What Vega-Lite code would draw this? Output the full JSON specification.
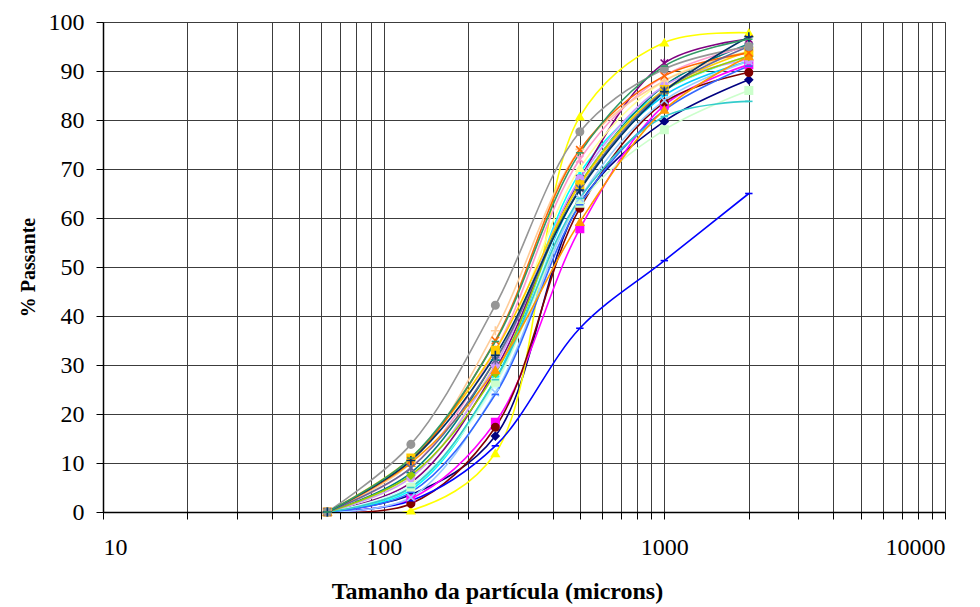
{
  "$schema": "https://vega.github.io/schema/vega-lite/v6.json",
  "width": 842,
  "height": 490,
  "autosize": "none",
  "padding": {"left": 103, "top": 22, "right": 35, "bottom": 95},
  "background": "white",
  "config": {
    "font": "Liberation Serif",
    "view": {"stroke": "#999999", "strokeWidth": 1},
    "axis": {
      "labelFont": "Liberation Serif",
      "titleFont": "Liberation Serif",
      "labelFontSize": 24,
      "titleFontSize": 20,
      "titleFontWeight": "bold",
      "labelColor": "black",
      "titleColor": "black",
      "domainColor": "black",
      "domainWidth": 1.5,
      "tickColor": "black",
      "tickSize": 7,
      "gridColor": "#3c3c3c",
      "gridWidth": 1,
      "gridOpacity": 1
    }
  },
  "datasets": {
    "pts": [
      {"s":"s1","x":63,"y":0},{"s":"s1","x":125,"y":3.5},{"s":"s1","x":250,"y":15.5},{"s":"s1","x":500,"y":63},{"s":"s1","x":1000,"y":79.7},{"s":"s1","x":2000,"y":88.2},
      {"s":"s2","x":63,"y":0},{"s":"s2","x":125,"y":2.7},{"s":"s2","x":250,"y":18.3},{"s":"s2","x":500,"y":57.8},{"s":"s2","x":1000,"y":83},{"s":"s2","x":2000,"y":91.3},
      {"s":"s3","x":63,"y":0},{"s":"s3","x":125,"y":0.3},{"s":"s3","x":250,"y":12},{"s":"s3","x":500,"y":80.7},{"s":"s3","x":1000,"y":95.8},{"s":"s3","x":2000,"y":97.8},
      {"s":"s4","x":63,"y":0},{"s":"s4","x":125,"y":4.5},{"s":"s4","x":250,"y":27},{"s":"s4","x":500,"y":69.2},{"s":"s4","x":1000,"y":86},{"s":"s4","x":2000,"y":93},
      {"s":"s5","x":63,"y":0},{"s":"s5","x":125,"y":6},{"s":"s5","x":250,"y":29},{"s":"s5","x":500,"y":68},{"s":"s5","x":1000,"y":91.6},{"s":"s5","x":2000,"y":96.5},
      {"s":"s6","x":63,"y":0},{"s":"s6","x":125,"y":1.7},{"s":"s6","x":250,"y":17.3},{"s":"s6","x":500,"y":62},{"s":"s6","x":1000,"y":83.6},{"s":"s6","x":2000,"y":89.7},
      {"s":"s7","x":63,"y":0},{"s":"s7","x":125,"y":8},{"s":"s7","x":250,"y":31},{"s":"s7","x":500,"y":67},{"s":"s7","x":1000,"y":87},{"s":"s7","x":2000,"y":95.5},
      {"s":"s8","x":63,"y":0},{"s":"s8","x":125,"y":2.3},{"s":"s8","x":250,"y":13.5},{"s":"s8","x":500,"y":37.5},{"s":"s8","x":1000,"y":51.3},{"s":"s8","x":2000,"y":65},
      {"s":"s9","x":63,"y":0},{"s":"s9","x":125,"y":5},{"s":"s9","x":250,"y":27},{"s":"s9","x":500,"y":66},{"s":"s9","x":1000,"y":85},{"s":"s9","x":2000,"y":92},
      {"s":"s10","x":63,"y":0},{"s":"s10","x":125,"y":5.5},{"s":"s10","x":250,"y":26},{"s":"s10","x":500,"y":67},{"s":"s10","x":1000,"y":86},{"s":"s10","x":2000,"y":93},
      {"s":"s11","x":63,"y":0},{"s":"s11","x":125,"y":5},{"s":"s11","x":250,"y":26.5},{"s":"s11","x":500,"y":63},{"s":"s11","x":1000,"y":78},{"s":"s11","x":2000,"y":86},
      {"s":"s12","x":63,"y":0},{"s":"s12","x":125,"y":7},{"s":"s12","x":250,"y":30.5},{"s":"s12","x":500,"y":70.2},{"s":"s12","x":1000,"y":88},{"s":"s12","x":2000,"y":94},
      {"s":"s13","x":63,"y":0},{"s":"s13","x":125,"y":3},{"s":"s13","x":250,"y":24.4},{"s":"s13","x":500,"y":64},{"s":"s13","x":1000,"y":84},{"s":"s13","x":2000,"y":92},
      {"s":"s14","x":63,"y":0},{"s":"s14","x":125,"y":9},{"s":"s14","x":250,"y":33},{"s":"s14","x":500,"y":72},{"s":"s14","x":1000,"y":89},{"s":"s14","x":2000,"y":95},
      {"s":"s15","x":63,"y":0},{"s":"s15","x":125,"y":7},{"s":"s15","x":250,"y":30},{"s":"s15","x":500,"y":68},{"s":"s15","x":1000,"y":87},{"s":"s15","x":2000,"y":92.3},
      {"s":"s16","x":63,"y":0},{"s":"s16","x":125,"y":10},{"s":"s16","x":250,"y":37},{"s":"s16","x":500,"y":74},{"s":"s16","x":1000,"y":88},{"s":"s16","x":2000,"y":94},
      {"s":"s17","x":63,"y":0},{"s":"s17","x":125,"y":4},{"s":"s17","x":250,"y":24},{"s":"s17","x":500,"y":62.7},{"s":"s17","x":1000,"y":82},{"s":"s17","x":2000,"y":91},
      {"s":"s18","x":63,"y":0},{"s":"s18","x":125,"y":5},{"s":"s18","x":250,"y":27},{"s":"s18","x":500,"y":64},{"s":"s18","x":1000,"y":80.7},{"s":"s18","x":2000,"y":83.8},
      {"s":"s19","x":63,"y":0},{"s":"s19","x":125,"y":7.5},{"s":"s19","x":250,"y":28.3},{"s":"s19","x":500,"y":67},{"s":"s19","x":1000,"y":86},{"s":"s19","x":2000,"y":93},
      {"s":"s20","x":63,"y":0},{"s":"s20","x":125,"y":11},{"s":"s20","x":250,"y":33},{"s":"s20","x":500,"y":66.8},{"s":"s20","x":1000,"y":86.2},{"s":"s20","x":2000,"y":94},
      {"s":"s21","x":63,"y":0},{"s":"s21","x":125,"y":10},{"s":"s21","x":250,"y":29},{"s":"s21","x":500,"y":59.2},{"s":"s21","x":1000,"y":82.1},{"s":"s21","x":2000,"y":93},
      {"s":"s22","x":63,"y":0},{"s":"s22","x":125,"y":10.5},{"s":"s22","x":250,"y":35},{"s":"s22","x":500,"y":73.9},{"s":"s22","x":1000,"y":89},{"s":"s22","x":2000,"y":93.7},
      {"s":"s23","x":63,"y":0},{"s":"s23","x":125,"y":9},{"s":"s23","x":250,"y":31},{"s":"s23","x":500,"y":66},{"s":"s23","x":1000,"y":86},{"s":"s23","x":2000,"y":95},
      {"s":"s24","x":63,"y":0},{"s":"s24","x":125,"y":13.8},{"s":"s24","x":250,"y":42.2},{"s":"s24","x":500,"y":77.6},{"s":"s24","x":1000,"y":90.4},{"s":"s24","x":2000,"y":95},
      {"s":"s25","x":63,"y":0},{"s":"s25","x":125,"y":10.5},{"s":"s25","x":250,"y":32},{"s":"s25","x":500,"y":65.7},{"s":"s25","x":1000,"y":85.8},{"s":"s25","x":2000,"y":97},
      {"s":"s26","x":63,"y":0},{"s":"s26","x":125,"y":11},{"s":"s26","x":250,"y":34.8},{"s":"s26","x":500,"y":73.3},{"s":"s26","x":1000,"y":91},{"s":"s26","x":2000,"y":96.5}
    ]
  },
  "data": {"name": "pts"},
  "encoding": {
    "x": {
      "field": "x", "type": "quantitative",
      "scale": {"type": "log", "domain": [10, 10000], "nice": false},
      "axis": {
        "title": "Tamanho da partícula (microns)",
        "titleFont": "Liberation Serif",
        "labelFont": "Liberation Serif",
        "titleFontSize": 24,
        "titleX": 394,
        "titleAlign": "center",
        "values": [10,20,30,40,50,60,70,80,90,100,200,300,400,500,600,700,800,900,1000,2000,3000,4000,5000,6000,7000,8000,9000,10000],
        "labelExpr": "(datum.value == 10 || datum.value == 100 || datum.value == 1000 || datum.value == 10000) ? datum.value : ''",
        "labelPadding": 16,
        "titlePadding": 20,
        "grid": true
      }
    },
    "y": {
      "field": "y", "type": "quantitative",
      "scale": {"domain": [0, 100], "nice": false},
      "axis": {
        "title": "% Passante",
        "titleFont": "Liberation Serif",
        "labelFont": "Liberation Serif",
        "values": [0,10,20,30,40,50,60,70,80,90,100],
        "labelPadding": 12,
        "titlePadding": 10,
        "grid": true
      }
    },
    "color": {
      "field": "s", "type": "nominal", "legend": null,
      "scale": {
        "domain": ["s1","s2","s3","s4","s5","s6","s7","s8","s9","s10","s11","s12","s13","s14","s15","s16","s17","s18","s19","s20","s21","s22","s23","s24","s25","s26"],
        "range": ["#000080","#FF00FF","#FFFF00","#00FFFF","#800080","#800000","#008080","#0000FF","#00CCFF","#CCFFFF","#CCFFCC","#FFFF99","#99CCFF","#FF99CC","#CC99FF","#FFCC99","#3366FF","#33CCCC","#99CC00","#FFCC00","#FF9900","#FF6600","#666699","#969696","#003366","#339966"]
      }
    },
    "detail": {"field": "s"}
  },
  "layer": [
    {
      "mark": {"type": "line", "interpolate": "catmull-rom", "strokeWidth": 1.6, "clip": true}
    },
    {
      "mark": {"type": "point", "filled": true, "opacity": 1, "size": 55, "strokeWidth": 1.6},
      "encoding": {
        "stroke": {
          "field": "s", "type": "nominal", "legend": null,
          "scale": {
            "domain": ["s1","s2","s3","s4","s5","s6","s7","s8","s9","s10","s11","s12","s13","s14","s15","s16","s17","s18","s19","s20","s21","s22","s23","s24","s25","s26"],
            "range": ["#000080","#FF00FF","#FFFF00","#00FFFF","#800080","#800000","#008080","#0000FF","#00CCFF","#CCFFFF","#CCFFCC","#FFFF99","#99CCFF","#FF99CC","#CC99FF","#FFCC99","#3366FF","#33CCCC","#99CC00","#FFCC00","#FF9900","#FF6600","#666699","#969696","#003366","#339966"]
          }
        },
        "shape": {
          "field": "s", "type": "nominal", "legend": null,
          "scale": {
            "domain": ["s1","s2","s3","s4","s5","s6","s7","s8","s9","s10","s11","s12","s13","s14","s15","s16","s17","s18","s19","s20","s21","s22","s23","s24","s25","s26"],
            "range": ["diamond","square","triangle-up","M-1,-1L1,1M-1,1L1,-1","M-1,-1L1,1M-1,1L1,-1M0,-1.2L0,1.2","circle","M-1.2,0L1.2,0M0,-1.2L0,1.2","stroke","stroke","diamond","square","triangle-up","M-1,-1L1,1M-1,1L1,-1","M-1,-1L1,1M-1,1L1,-1M0,-1.2L0,1.2","circle","M-1.2,0L1.2,0M0,-1.2L0,1.2","stroke","stroke","diamond","square","triangle-up","M-1,-1L1,1M-1,1L1,-1","M-1,-1L1,1M-1,1L1,-1M0,-1.2L0,1.2","circle","M-1.2,0L1.2,0M0,-1.2L0,1.2","stroke"]
          }
        }
      }
    }
  ]
}
